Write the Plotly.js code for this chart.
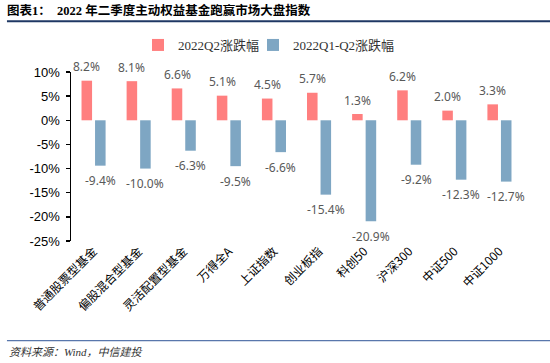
<!DOCTYPE html>
<html>
<head>
<meta charset="utf-8">
<script src="https://cdn.plot.ly/plotly-3.0.1.min.js"></script>
<style>html,body{margin:0;padding:0;background:#fff;}#chart{width:550px;height:363px;}</style>
</head>
<body>
<div id="chart"></div>
<script>
const categories = ['普通股票型基金','偏股混合型基金','灵活配置型基金','万得全A','上证指数','创业板指','科创50','沪深300','中证500','中证1000'];
const seriesNames = ['2022Q2涨跌幅','2022Q1-Q2涨跌幅'];
const q2Values = [8.2, 8.1, 6.6, 5.1, 4.5, 5.7, 1.3, 6.2, 2.0, 3.3];
const h1Values = [-9.4, -10.0, -6.3, -9.5, -6.6, -15.4, -20.9, -9.2, -12.3, -12.7];
const yTickVals = [10, 5, 0, -5, -10, -15, -20, -25];
const yTickText = ['10%', '5%', '0%', '-5%', '-10%', '-15%', '-20%', '-25%'];

const RED = '#FF7F7F', BLUE = '#7EA6C3';
const yMin = -25, yMax = 10;

const traces = [
  {type:'bar', name:seriesNames[0], x:categories, y:q2Values, marker:{color:RED}, hoverinfo:'none', legend:'legend'},
  {type:'bar', name:seriesNames[1], x:categories, y:h1Values, marker:{color:BLUE}, hoverinfo:'none', legend:'legend2'}
];

const labelFont = {family:'Noto Sans, DejaVu Sans, sans-serif', size:12, color:'#595959'};
const annotations = [];
categories.forEach((c, i) => {
  annotations.push({x:c, y:q2Values[i], xref:'x', yref:'y', text:q2Values[i].toFixed(1)+'%',
    showarrow:false, xshift:-6.75, yshift:14, yanchor:'middle', font:labelFont});
  annotations.push({x:c, y:h1Values[i], xref:'x', yref:'y', text:h1Values[i].toFixed(1)+'%',
    showarrow:false, xshift:6.75, yshift:-15, yanchor:'middle', font:labelFont});
});
annotations.push({xref:'paper', yref:'paper', x:-0.142, y:-0.658, xanchor:'left', yanchor:'middle',
  text:'<i>资料来源：Wind，中信建投</i>', showarrow:false,
  font:{family:'Liberation Serif, Noto Sans CJK SC, serif', size:11, color:'#333333'}});

const legendFont = {family:'Liberation Serif, Noto Sans CJK SC, serif', size:13, color:'#333'};

const layout = {
  width:550, height:363,
  margin:{l:71, r:28, t:72, b:122},
  paper_bgcolor:'#fff', plot_bgcolor:'#fff',
  title:{text:'<b>图表1：  2022 年二季度主动权益基金跑赢市场大盘指数</b>', x:7/550, xanchor:'left', xref:'container',
    y:1-11/363, yanchor:'middle', yref:'container',
    font:{family:'Liberation Serif, Noto Sans CJK SC, serif', size:12.5, color:'#000'}},
  barmode:'group', bargap:0.4, bargroupgap:0.22,
  showlegend:true,
  legend:{orientation:'h', xref:'container', yref:'container', x:138/550, xanchor:'left', y:1-45/363, yanchor:'middle',
    font:legendFont, itemwidth:30, bgcolor:'rgba(0,0,0,0)'},
  legend2:{orientation:'h', xref:'container', yref:'container', x:253/550, xanchor:'left', y:1-45/363, yanchor:'middle',
    font:legendFont, itemwidth:30, bgcolor:'rgba(0,0,0,0)'},
  xaxis:{type:'category', categoryorder:'array', categoryarray:categories, range:[-0.5, categories.length-0.5],
    showline:false, ticks:'', tickangle:-45, showgrid:false, zeroline:false,
    tickfont:{family:'Noto Sans CJK SC, sans-serif', size:12, color:'#000'}},
  xaxis2:{overlaying:'x', anchor:'free', position:(0-yMin)/(yMax-yMin), range:[-0.5, categories.length-0.5],
    tickvals:categories.map((c,i)=>i+0.5), showticklabels:false, ticks:'outside', ticklen:4, tickwidth:1.5, tickcolor:'#000',
    showline:true, linecolor:'#000', linewidth:1.5, showgrid:false, zeroline:false, fixedrange:true},
  yaxis:{range:[yMin, yMax], tickvals:yTickVals, ticktext:yTickText, showgrid:false, zeroline:false,
    showline:true, linecolor:'#000', linewidth:1.5, ticks:'outside', ticklen:4, tickwidth:1.5, tickcolor:'#000',
    ticklabelstandoff:3,
    tickfont:{family:'Liberation Sans, Arial, sans-serif', size:13, color:'#000'}},
  shapes:[
    {type:'line', xref:'paper', yref:'paper', x0:-0.142, x1:1.063, y0:1.30, y1:1.30, line:{color:'#1F3864', width:2}},
    {type:'line', xref:'paper', yref:'paper', x0:-0.142, x1:1.063, y0:-0.59, y1:-0.59, line:{color:'#2F5597', width:1}}
  ],
  annotations:annotations
};

Plotly.newPlot('chart', traces, layout, {displayModeBar:false, staticPlot:true});
</script>
</body>
</html>
